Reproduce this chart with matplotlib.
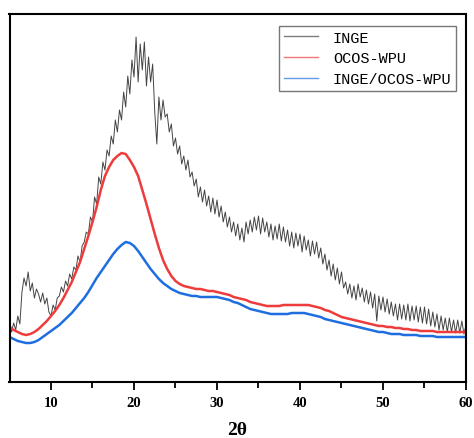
import numpy as np
import matplotlib
matplotlib.use("Agg")
import matplotlib.pyplot as plt

# 2-theta grids
two_theta_inge = np.arange(5.0, 60.001, 0.25)
two_theta_smooth = np.arange(5.0, 60.001, 0.5)

# INGE diffraction intensity (a.u.), 0.25 deg steps
inge = [
    62, 50, 59, 52,
    66, 58, 90, 104,
    96, 110, 91, 99,
    84, 93, 88, 80,
    89, 78, 84, 70,
    66, 77, 72, 84,
    86, 95, 90, 101,
    96, 108, 103, 115,
    112, 126, 120, 136,
    140, 150, 148, 165,
    160, 185, 178, 205,
    198, 220, 212, 232,
    226, 246, 238, 262,
    250, 272, 262, 290,
    275, 306, 288, 322,
    305, 345, 300, 338,
    312, 340, 296, 325,
    300, 318, 270, 238,
    285, 262, 282, 265,
    268, 250, 258, 236,
    244, 228, 236, 218,
    226, 212, 222, 205,
    210, 196, 203, 185,
    195, 180, 192, 176,
    186, 170, 184, 168,
    182, 165, 176, 160,
    170, 155, 165, 150,
    160, 146, 158, 142,
    154, 140, 160, 148,
    162, 150, 165, 152,
    166, 148, 164, 150,
    160, 145, 158, 142,
    156, 143, 158, 141,
    155, 140, 152, 136,
    150, 134, 149, 136,
    148, 130, 146, 132,
    142, 126, 141, 128,
    140, 124, 134, 118,
    128, 112, 122, 106,
    118, 102, 114, 98,
    110, 94, 100, 88,
    98, 84, 96, 82,
    98, 85, 94, 80,
    92, 78, 90, 74,
    88, 61, 86, 72,
    85, 70, 83, 68,
    80, 66, 78, 62,
    78, 63, 77, 62,
    78, 61, 76, 62,
    76, 60, 75, 59,
    75, 58, 73, 56,
    70, 55, 68, 52,
    66, 52, 64, 50,
    64, 50, 62, 49,
    62, 49, 61, 48,
    57,
]

# OCOS-WPU intensity (a.u.), 0.5 deg steps
ocos_wpu = [
    55, 52, 50, 48, 47, 48, 50, 53, 57, 61,
    66, 71, 77, 84, 92, 100, 110, 120, 133, 146,
    160, 175, 192, 206, 215, 222, 226, 229, 228, 222,
    215, 206, 192, 178, 163, 148, 134, 122, 113, 106,
    101, 98, 96, 95, 94, 93, 93, 92, 91, 91,
    90, 89, 88, 87, 85, 84, 83, 82, 80, 79,
    78, 77, 76, 76, 76, 76, 77, 77, 77, 77,
    77, 77, 77, 76, 75, 74, 72, 71, 69, 67,
    65, 64, 63, 62, 61, 60, 59, 58, 57, 56,
    56, 55, 55, 54, 54, 53, 53, 52, 52, 51,
    51, 51, 51, 50, 50, 50, 50, 50, 50, 50,
    50,
]

# INGE/OCOS-WPU intensity (a.u.), 0.5 deg steps
inge_ocos_wpu = [
    45, 43, 41, 40, 39, 39, 40, 42, 45, 48,
    51, 54, 57, 61, 65, 69, 74, 79, 84, 90,
    97, 104, 110, 116, 122, 128, 133, 137, 140, 139,
    136, 131, 125, 119, 113, 108, 103, 99, 96, 93,
    91, 89, 88, 87, 86, 86, 85, 85, 85, 85,
    85, 84, 83, 82, 80, 79, 77, 75, 73, 72,
    71, 70, 69, 68, 68, 68, 68, 68, 69, 69,
    69, 69, 68, 67, 66, 65, 63, 62, 61, 60,
    59, 58, 57, 56, 55, 54, 53, 52, 51, 50,
    50, 49, 48, 48, 48, 47, 47, 47, 47, 46,
    46, 46, 46, 45, 45, 45, 45, 45, 45, 45,
    45,
]

labels = ["INGE", "OCOS-WPU", "INGE/OCOS-WPU"]
tick_values = [10, 20, 30, 40, 50, 60]

W, H = 474, 439
fig = plt.figure(figsize=(W / 100, H / 100), dpi=100)
left, right, top, bottom = 9.5, 466, 15, 383
ax = fig.add_axes([left / W, (H - bottom) / H, (right - left) / W, (bottom - top) / H])

ax.plot(two_theta_inge, inge, color="#444444", lw=0.7, label=labels[0])
ax.plot(two_theta_smooth, ocos_wpu, color="#ee3b3b", lw=1.8, label=labels[1])
ax.plot(two_theta_smooth, inge_ocos_wpu, color="#1f6ee0", lw=1.8, label=labels[2])

ax.set_xlim(5, 60)
ax.set_ylim(0, 368)
ax.set_yticks([])
ax.set_xticks(tick_values)
ax.set_xticks([15, 25, 35, 45, 55], minor=True)
ax.tick_params(axis="x", which="major", direction="out", length=6, width=1.3, pad=4)
ax.tick_params(axis="x", which="minor", direction="out", length=4, width=1.3)
for lab in ax.get_xticklabels():
    lab.set_fontfamily("Liberation Serif")
    lab.set_fontweight("bold")
    lab.set_fontsize(10.5)
for sp in ax.spines.values():
    sp.set_linewidth(1.5)
    sp.set_color("black")

fig.text(237 / W, 1 - 431 / H, "2θ", ha="center", va="center",
         fontfamily="Liberation Serif", fontweight="bold", fontsize=14)

leg = ax.legend(
    loc="upper right",
    bbox_to_anchor=((456 - left) / (right - left), (bottom - 27) / (bottom - top)),
    borderaxespad=0,
    prop={"family": "Liberation Mono", "size": 11},
    frameon=True,
    fancybox=False,
    handlelength=2.2,
    handletextpad=1.0,
    labelspacing=0.45,
    borderpad=0.3,
)
leg.get_frame().set_edgecolor("#555555")
leg.get_frame().set_linewidth(1.0)
for line in leg.get_lines():
    line.set_linewidth(1.0)
    line.set_alpha(0.7)

fig.savefig("out.png", dpi=100)
